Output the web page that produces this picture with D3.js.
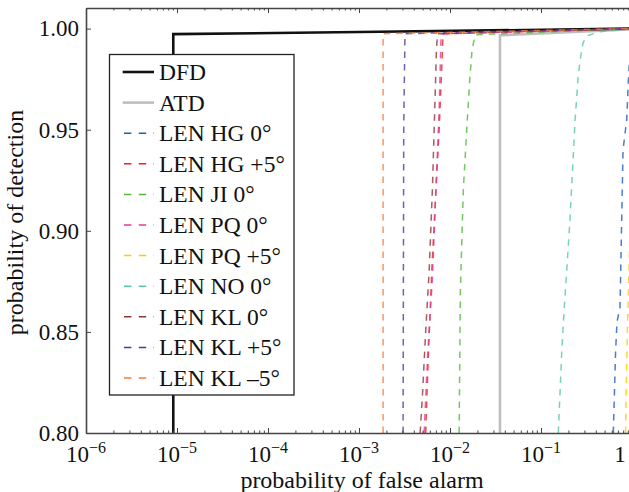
<!DOCTYPE html>
<html><head><meta charset="utf-8">
<script src="https://cdn.jsdelivr.net/npm/d3@7"></script>
<style>
body{margin:0;background:#fff}
svg{display:block}
text{font-family:"Liberation Serif","Times New Roman",serif;fill:#111}
</style>
</head><body><svg id="c" width="629" height="492"></svg>
<script>
// ---- data (pfa, pd) ----
const dfd = [[9.1e-6,0.79],[9.1e-6,0.9973],[1e-3,0.9983],[1,1.0]];
const atd = [[0.0354,0.79],[0.0354,0.9967],[1,0.9997]];
const lenNames = ["LEN HG 0°","LEN HG +5°","LEN JI 0°","LEN PQ 0°","LEN PQ +5°","LEN NO 0°","LEN KL 0°","LEN KL +5°","LEN KL \u20135°"];
const lenHG0  = [[0.623,0.80],[0.66,0.84],[0.684,0.855],[0.738,0.862],[0.77,0.905],[0.797,0.94],[0.875,0.955],[0.92,0.978],[0.96,0.99],[1,0.998]];
const lenHG5  = [[5.4e-3,0.80],[5.8e-3,0.84],[6.3e-3,0.88],[7.0e-3,0.92],[7.6e-3,0.95],[8.1e-3,0.98],[8.4e-3,0.9974],[1,1.0]];
const lenJI0  = [[1.26e-2,0.80],[1.30e-2,0.87],[1.40e-2,0.92],[1.55e-2,0.955],[1.65e-2,0.975],[1.75e-2,0.99],[1.9e-2,0.9970],[1,1.0]];
const lenPQ0  = [[5.2e-3,0.80],[5.7e-3,0.84],[6.4e-3,0.876],[7.0e-3,0.92],[7.6e-3,0.96],[7.9e-3,0.99],[8.0e-3,0.9974],[1,1.0]];
const lenPQ5  = [[0.85,0.80],[0.87,0.83],[0.90,0.86],[0.95,0.90],[1,0.95]];
const lenNO0  = [[0.155,0.80],[0.169,0.84],[0.179,0.86],[0.208,0.905],[0.237,0.955],[0.255,0.975],[0.27,0.985],[0.29,0.993],[0.32,0.9965],[0.45,0.9985],[1,1.0]];
const lenKL0  = [[4.7e-3,0.80],[5.0e-3,0.82],[5.4e-3,0.85],[5.9e-3,0.88],[6.4e-3,0.92],[6.8e-3,0.96],[7.1e-3,0.99],[7.3e-3,0.9974],[1,1.0]];
const lenKL5  = [[3.05e-3,0.80],[3.1e-3,0.95],[3.2e-3,0.9975],[1,1.0]];
const lenKLm5 = [[1.84e-3,0.80],[1.84e-3,0.9975],[1,1.0]];
const lenSeries = [lenHG0,lenHG5,lenJI0,lenPQ0,lenPQ5,lenNO0,lenKL0,lenKL5,lenKLm5];
const xMajorExps = [-6,-5,-4,-3,-2,-1,0];
const yTicks = [0.80,0.85,0.90,0.95,1.00];

// ---- styles ----
const lenColors = ["#1f5cc0","#ec2024","#55b83a","#e03c98","#ffcc00","#55c8a4","#8f3535","#4b3a9e","#f7793a"];

const svg = d3.select("#c");
const L = 86, R = 632, T = 8, B = 433;
const x = d3.scaleLog().domain([1e-6,1]).range([L,R]);
const y = d3.scaleLinear().domain([0.80,1.0102]).range([B,T]);

const majors = xMajorExps.map(e => Math.pow(10,e));
const minors = [];
for (let e=-6;e<0;e++) for (let k=2;k<=9;k++) minors.push(k*Math.pow(10,e));

svg.append("defs").append("clipPath").attr("id","clip")
  .append("rect").attr("x",L).attr("y",T).attr("width",629-L).attr("height",B-T);

const line = d3.line().x(d=>x(d[0])).y(d=>y(d[1]));
const plot = svg.append("g").attr("clip-path","url(#clip)");

plot.append("path").datum(atd).attr("d",line).attr("fill","none")
  .attr("stroke","#bfbfbf").attr("stroke-width",2.6);
plot.append("path").datum(dfd).attr("d",line).attr("fill","none")
  .attr("stroke","#111").attr("stroke-width",2.6);
lenSeries.forEach((s,i)=>{
  plot.append("path").datum(s).attr("d",line).attr("fill","none")
    .attr("stroke",lenColors[i]).attr("stroke-width",1.5)
    .attr("stroke-opacity",0.8).attr("stroke-dasharray","6.5,6");
});

// ---- axes ----
const axCol = "#444";
function styleAxis(g){
  g.select(".domain").attr("stroke",axCol).attr("stroke-width",1.6);
  g.selectAll(".tick line").attr("stroke",axCol).attr("stroke-width",1);
}
// bottom
svg.append("g").attr("transform",`translate(0,${B})`)
  .call(d3.axisBottom(x).tickValues(majors).tickSizeInner(-5).tickSizeOuter(0).tickFormat(""))
  .call(styleAxis);
svg.append("g").attr("transform",`translate(0,${B})`)
  .call(d3.axisBottom(x).tickValues(minors).tickSizeInner(-2.5).tickSizeOuter(0).tickFormat(""))
  .call(g=>g.select(".domain").remove())
  .call(g=>g.selectAll(".tick line").attr("stroke",axCol));
// top
svg.append("g").attr("transform",`translate(0,${T})`)
  .call(d3.axisTop(x).tickValues(majors).tickSizeInner(-5).tickSizeOuter(0).tickFormat(""))
  .call(styleAxis);
svg.append("g").attr("transform",`translate(0,${T})`)
  .call(d3.axisTop(x).tickValues(minors).tickSizeInner(-2.5).tickSizeOuter(0).tickFormat(""))
  .call(g=>g.select(".domain").remove())
  .call(g=>g.selectAll(".tick line").attr("stroke",axCol));
// left
svg.append("g").attr("transform",`translate(${L},0)`)
  .call(d3.axisLeft(y).tickValues(yTicks).tickSizeInner(-5).tickSizeOuter(0).tickPadding(7).tickFormat(d3.format(".2f")))
  .call(styleAxis)
  .call(g=>g.selectAll(".tick text").attr("font-size",23).attr("font-family","Liberation Serif, serif").attr("fill","#111").attr("dy","0.32em"));

// x tick labels with superscripts
const xl = svg.append("g");
xMajorExps.forEach(e=>{
  const px = Math.min(x(Math.pow(10,e)), 620);
  const t = xl.append("text").attr("x",px).attr("y",462).attr("text-anchor","middle").attr("font-size",23);
  if (e===0) { t.text("1"); }
  else {
    t.append("tspan").text("10");
    t.append("tspan").attr("dy",-9).attr("font-size",16).text("\u2212"+Math.abs(e));
  }
});

// axis titles
svg.append("text").attr("x",362).attr("y",487.5).attr("text-anchor","middle")
  .attr("font-size",24).text("probability of false alarm");
svg.append("text").attr("transform",`translate(23,${(T+B)/2+2}) rotate(-90)`)
  .attr("text-anchor","middle").attr("font-size",24).text("probability of detection");

// ---- legend ----
const lg = svg.append("g");
lg.append("rect").attr("x",109.5).attr("y",54.5).attr("width",184.5).attr("height",340.5)
  .attr("fill","#fff").attr("stroke","#222").attr("stroke-width",1.3);
const legItems = [{n:"DFD",c:"#111",w:2.6,d:null},{n:"ATD",c:"#bfbfbf",w:2.6,d:null}]
  .concat(lenNames.map((n,i)=>({n:n,c:lenColors[i],w:1.5,d:"7.4,7.4"})));
legItems.forEach((it,i)=>{
  const cy = 72 + i*30.6;
  const ln = lg.append("line").attr("x1",it.d?124:122.7).attr("x2",154).attr("y1",cy).attr("y2",cy)
    .attr("stroke",it.c).attr("stroke-width",it.w);
  if (it.d) ln.attr("stroke-dasharray",it.d);
  lg.append("text").attr("x",159).attr("y",cy+8).attr("font-size",23.5).text(it.n);
});
</script>
</body></html>
